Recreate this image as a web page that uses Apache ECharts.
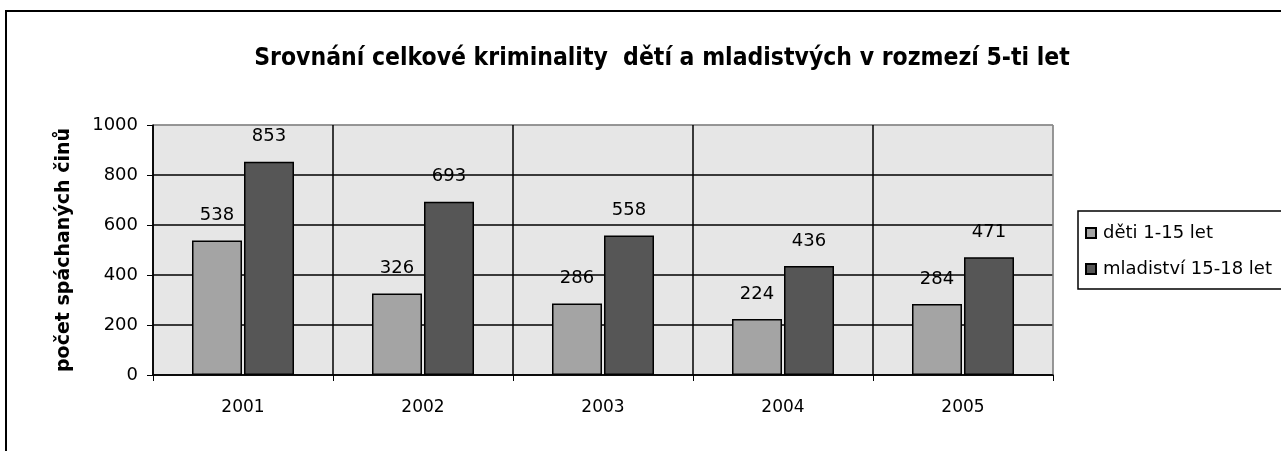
<!DOCTYPE html>
<html>
<head>
<meta charset="utf-8">
<script src="https://cdn.jsdelivr.net/npm/echarts@6/dist/echarts.min.js"></script>
<style>
  html, body { margin: 0; padding: 0; background: #fff; }
  #frame { position: absolute; left: 5px; top: 10px; width: 1300px; height: 460px; border: 2px solid #000; box-sizing: border-box; }
  #chart { position: absolute; left: 0; top: 0; width: 1281px; height: 451px; }
</style>
</head>
<body>
<div id="frame"></div>
<div id="chart"></div>
<script>
// roky
var years = ['2001', '2002', '2003', '2004', '2005'];
// děti 1-15 let
var detiValues = [538, 326, 286, 224, 284];
// mladiství 15-18 let
var mladistviValues = [853, 693, 558, 436, 471];
var yTicks = [0, 200, 400, 600, 800, 1000];

var myChart = echarts.init(document.getElementById('chart'));

var labelStyle = {
  show: true,
  position: 'top',
  distance: 16,
  color: '#000',
  fontSize: 18,
  fontFamily: 'DejaVu Sans'
};

var option = {
  animation: false,
  title: {
    text: 'Srovnání celkové kriminality  dětí a mladistvých v rozmezí 5-ti let',
    left: 657,
    textAlign: 'center',
    top: 41,
    textStyle: {
      fontFamily: 'DejaVu Sans Condensed',
      fontWeight: 'bold',
      fontSize: 24.5,
      color: '#000'
    }
  },
  legend: {
    orient: 'vertical',
    left: 1078,
    top: 211,
    padding: [13, 60, 11, 7],
    itemGap: 18,
    itemWidth: 10,
    itemHeight: 10,
    icon: 'rect',
    borderColor: '#000',
    borderWidth: 1.5,
    textStyle: { fontFamily: 'DejaVu Sans', fontSize: 18, color: '#000', padding: [0, 0, 0, 2] },
    data: ['děti 1-15 let', 'mladiství 15-18 let']
  },
  grid: {
    left: 153,
    top: 125,
    width: 900,
    height: 250,
    show: true,
    backgroundColor: '#e6e6e6',
    borderColor: '#888',
    borderWidth: 1
  },
  xAxis: {
    type: 'category',
    data: years,
    axisLine: { lineStyle: { color: '#000', width: 1.5 } },
    axisTick: { show: true, length: 6, lineStyle: { color: '#000' } },
    axisLabel: { color: '#000', fontSize: 17, fontFamily: 'DejaVu Sans', margin: 24 },
    splitLine: {
      show: true,
      interval: 0,
      lineStyle: { color: ['#000', '#000', '#000', '#000', '#000', '#888'], width: 1.5 }
    }
  },
  yAxis: {
    type: 'value',
    min: yTicks[0],
    max: yTicks[yTicks.length - 1],
    interval: 200,
    name: 'počet spáchaných činů',
    nameLocation: 'middle',
    nameRotate: 90,
    nameGap: 79,
    nameTextStyle: { fontFamily: 'DejaVu Sans', fontWeight: 'bold', fontSize: 19, color: '#000' },
    axisLine: { show: true, lineStyle: { color: '#000', width: 1.5 } },
    axisTick: { show: true, length: 6, lineStyle: { color: '#000' } },
    axisLabel: {
      color: '#000', fontSize: 18, fontFamily: 'DejaVu Sans', margin: 15,
      formatter: function (v) { return String(v); }
    },
    splitLine: {
      show: true,
      lineStyle: { color: ['#000', '#000', '#000', '#000', '#000', '#888'], width: 1.5 }
    }
  },
  series: [
    {
      name: 'děti 1-15 let',
      type: 'bar',
      data: detiValues,
      barWidth: 50,
      barGap: '4%',
      itemStyle: { color: '#a4a4a4', borderColor: '#000', borderWidth: 1.5 },
      label: labelStyle
    },
    {
      name: 'mladiství 15-18 let',
      type: 'bar',
      data: mladistviValues,
      barWidth: 50,
      itemStyle: { color: '#565656', borderColor: '#000', borderWidth: 1.5 },
      label: labelStyle
    }
  ]
};

myChart.setOption(option);
</script>
</body>
</html>
